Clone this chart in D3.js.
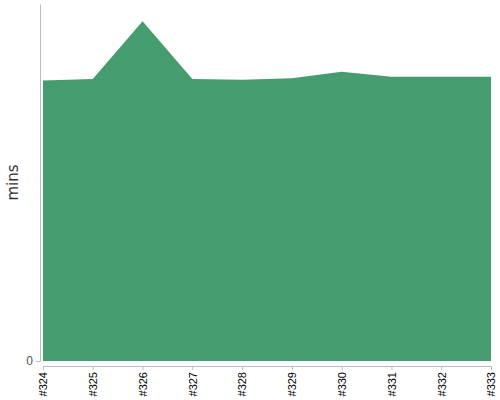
<!DOCTYPE html>
<html>
<head>
<meta charset="utf-8">
<script src="https://cdn.jsdelivr.net/npm/d3@7"></script>
<style>
  body { margin: 0; background: #fff; }
  svg { display: block; }
</style>
</head>
<body>
<svg id="chart" width="500" height="400"></svg>
<script>
// episode numbers and running time in minutes
const episodes = ['#324', '#325', '#326', '#327', '#328', '#329', '#330', '#331', '#332', '#333'];
const minutes = [78.6, 79.0, 95.2, 79.0, 78.8, 79.2, 81.0, 79.6, 79.6, 79.6];
const yTicks = [0];
const yMax = 100;

const w = 500;
const h = 400;

const margin = {
  top: 4,
  right: 9,
  bottom: 39,
  left: 43
};

const data = episodes.map((ep, i) => ({ ep, value: minutes[i] }));

const svg = d3.select('#chart');

const x = d3.scalePoint()
  .domain(episodes)
  .range([margin.left, w - margin.right]);

const y = d3.scaleLinear()
  .domain([0, yMax])
  .range([h - margin.bottom, margin.top]);

// area
const area = d3.area()
  .x((d) => x(d.ep))
  .y0(y(0))
  .y1((d) => y(d.value));

svg.append('path')
  .datum(data)
  .attr('d', area)
  .attr('fill', '#459c6e');

// y axis, pulled off the plot by a few px
const yAxis = svg.append('g')
  .attr('transform', `translate(${margin.left - 3}, 0)`)
  .call(d3.axisLeft(y).tickValues(yTicks).tickSize(4).tickSizeOuter(0).tickPadding(3));

yAxis.select('.domain').attr('stroke', '#bbb');
yAxis.selectAll('.tick line').attr('stroke', '#bbb');
yAxis.selectAll('.tick text')
  .attr('fill', '#555')
  .style('font-family', 'Liberation Sans, Arial, sans-serif')
  .style('font-size', '12px');

svg.append('text')
  .attr('transform', `translate(18, ${(margin.top + h - margin.bottom) / 2}) rotate(-90)`)
  .attr('text-anchor', 'middle')
  .attr('fill', '#333')
  .style('font-family', 'DejaVu Sans, sans-serif')
  .style('font-size', '15px')
  .text('mins');

// x axis, dropped a few px below the area
const xAxis = svg.append('g')
  .attr('transform', `translate(0, ${h - margin.bottom + 5})`)
  .call(d3.axisBottom(x).tickSize(4).tickSizeOuter(0));

xAxis.select('.domain').attr('stroke', '#bbb');
xAxis.selectAll('.tick line').attr('stroke', '#bbb');
xAxis.selectAll('.tick text')
  .attr('fill', '#000')
  .style('font-family', 'Liberation Sans, Arial, sans-serif')
  .style('font-size', '11px')
  .attr('text-anchor', 'end')
  .attr('dy', '0.35em')
  .attr('transform', 'translate(0, 2) rotate(-90)')
  .attr('x', -4)
  .attr('y', 0);
</script>
</body>
</html>
